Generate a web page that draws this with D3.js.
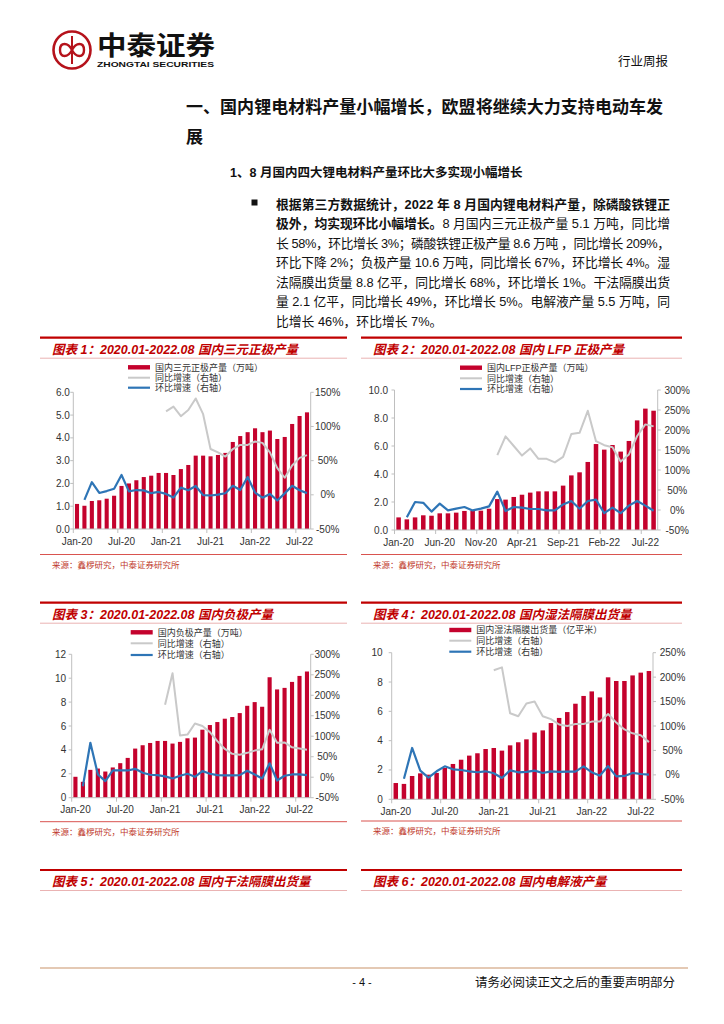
<!DOCTYPE html>
<html><head><meta charset="utf-8">
<script src="https://cdn.jsdelivr.net/npm/d3@7"></script>
<style>body{margin:0;background:#fff} svg{display:block}</style>
</head><body>
<svg id="page" width="724" height="1024"></svg>
<script>
// ---------------- DATA ----------------
const months = ["Jan-20","Feb-20","Mar-20","Apr-20","May-20","Jun-20","Jul-20","Aug-20","Sep-20","Oct-20","Nov-20","Dec-20",
  "Jan-21","Feb-21","Mar-21","Apr-21","May-21","Jun-21","Jul-21","Aug-21","Sep-21","Oct-21","Nov-21","Dec-21",
  "Jan-22","Feb-22","Mar-22","Apr-22","May-22","Jun-22","Jul-22","Aug-22"];
const N12 = [null,null,null,null,null,null,null,null,null,null,null,null];

// Chart 1: NCM cathode output (10k t), YoY %, MoM %
const ncmOutput = [1.10,1.02,1.23,1.26,1.33,1.46,1.89,2.00,2.14,2.28,2.34,2.46,2.46,2.37,2.63,2.81,3.22,3.22,3.19,3.25,3.34,3.82,4.08,4.25,4.42,4.25,4.32,3.95,4.04,4.61,4.96,5.12];
const ncmYoY = N12.concat([122,129,115,124,141,118,67,62,56,67,73,73,78,76,62,39,25,43,54,58]);
const ncmMoM = [null,-7.5,18.5,2.7,5.5,9,29,5,7,6.5,2.4,4.2,1.3,-4,10.5,6.6,13,-0.5,-1,0.3,2.3,13.2,7,26,3.3,-4.2,1.3,-8.3,2.1,13.2,6.7,2.5];

// Chart 2: LFP cathode output
const lfpOutput = [0.90,0.76,0.90,1.05,1.02,1.19,1.19,1.24,1.36,1.38,1.38,1.52,2.21,2.17,2.36,2.52,2.67,2.76,2.76,2.76,3.17,3.90,4.12,4.86,6.14,5.74,6.07,5.60,6.36,7.83,8.67,8.52];
const lfpYoY = N12.concat([137,184,160,136,154,128,128,119,133,190,193,248,172,162,157,121,139,185,214,209]);
const lfpMoM = [null,-18,20,18,-4,16,-1,3.3,7.5,-1,3.3,9,46,-2.5,7.5,6,2.5,2.5,-1,-1,14,22.5,3.3,22.5,26,-8,6,-8,11,22.5,11,-2];

// Chart 3: anode output
const anodeOutput = [1.75,1.33,2.33,2.44,2.19,2.53,2.89,3.33,4.11,4.39,4.58,4.75,4.75,4.53,4.67,4.97,5.03,5.69,6.08,6.33,6.61,6.75,7.08,7.69,8.00,7.61,10.08,9.06,9.19,9.69,10.19,10.56];
const anodeYoY = N12.concat([177,254,102,104,131,125,110,88,69,57,55,59.5,65,68,116,84,85,73,70,67]);
const anodeMoM = [null,-22,84,7,-9.5,16.5,16.5,16.5,20.5,11,6,5,2,-3,3.5,8.4,1,15,8.4,5,4.3,4.3,5,15.6,6.7,-3,34,-8,3.5,6.7,6.7,5];

// Chart 4: wet-process separator shipments (100m m2)
const wetOutput = [1.11,1.05,1.59,1.77,1.68,1.80,2.14,2.41,2.70,2.98,3.14,3.43,3.50,3.32,3.68,3.89,4.09,4.55,4.70,5.20,5.55,5.95,6.52,7.05,7.36,6.95,8.32,8.07,8.07,8.45,8.64,8.75];
const wetYoY = N12.concat([214,220,126,120,146,150,120,114,103,100,104,104,109,109,124.5,107,93,85,81,67]);
const wetMoM = [null,-8,55,8.7,-5.6,7.3,17.5,11.4,10,7.3,5.3,7.3,3.2,-6.3,9.3,5.3,6,8.7,3.9,7.3,6,6.6,6.6,17.5,5.3,-1.6,18,-3,-2.2,3.9,1.8,0.5];

// Axis ticks
const ticks1L = [0,1,2,3,4,5,6];
const ticks1R = [-50,0,50,100,150];
const ticks2L = [0,2,4,6,8,10];
const ticks2R = [-50,0,50,100,150,200,250,300];
const ticks3L = [0,2,4,6,8,10,12];
const ticks3R = [-50,0,50,100,150,200,250,300];
const ticks4L = [0,2,4,6,8,10];
const ticks4R = [-50,0,50,100,150,200,250];

const legendYoY = "同比增速（右轴）";
const legendMoM = "环比增速（右轴）";
const sourceText = "来源：鑫椤研究，中泰证券研究所";

// ---------------- STYLE ----------------
const FONT = "'Liberation Sans', Arial, 'Noto Sans CJK SC', sans-serif";
const CJK = "'Noto Sans CJK SC', sans-serif";
const RED = "#c00000";
const BAR = "#c4022d";
const GRAY = "#c9c9c9";
const BLUE = "#2e75b6";
const AXIS = "#bfbfbf";
const svg = d3.select("#page");

// ---------------- HEADER ----------------
const logo = svg.append("g");
logo.append("circle").attr("cx",72).attr("cy",50).attr("r",18.5).attr("fill","none").attr("stroke","#b5121b").attr("stroke-width",2.6);
logo.append("line").attr("x1",72).attr("x2",72).attr("y1",36).attr("y2",64).attr("stroke","#b5121b").attr("stroke-width",2);
logo.append("path").attr("d","M72,50 C68,42 60,42 60,50 C60,58 68,58 72,50 C76,42 84,42 84,50 C84,58 76,58 72,50")
  .attr("fill","none").attr("stroke","#b5121b").attr("stroke-width",2.4);
svg.append("text").attr("x",97).attr("y",55).attr("font-family",CJK).attr("font-weight",700).attr("font-size",26)
  .attr("textLength",118).attr("lengthAdjust","spacingAndGlyphs").attr("fill","#111").text("中泰证券");
svg.append("text").attr("x",97).attr("y",67).attr("font-family",FONT).attr("font-weight",700).attr("font-size",8)
  .attr("textLength",117).attr("lengthAdjust","spacingAndGlyphs").attr("fill","#111").text("ZHONGTAI SECURITIES");
svg.append("text").attr("x",668).attr("y",66).attr("text-anchor","end").attr("font-family",CJK).attr("font-size",12.5)
  .attr("fill","#111").text("行业周报");

// ---------------- BODY TEXT ----------------
svg.append("text").attr("x",186).attr("y",113).attr("font-family",CJK).attr("font-weight",700).attr("font-size",17)
  .attr("textLength",477).attr("lengthAdjust","spacing").attr("fill","#111")
  .text("一、国内锂电材料产量小幅增长，欧盟将继续大力支持电动车发");
svg.append("text").attr("x",186).attr("y",143).attr("font-family",CJK).attr("font-weight",700).attr("font-size",17)
  .attr("fill","#111").text("展");
svg.append("text").attr("x",230).attr("y",177).attr("font-family",FONT).attr("font-weight",700).attr("font-size",12.5)
  .attr("fill","#111").text("1、8 月国内四大锂电材料产量环比大多实现小幅增长");

svg.append("rect").attr("x",251.5).attr("y",199.5).attr("width",6).attr("height",6).attr("fill","#111");
const paraLines = [
  [["根据第三方数据统计，2022 年 8 月国内锂电材料产量，除磷酸铁锂正",true]],
  [["极外，均实现环比小幅增长。",true],["8 月国内三元正极产量 5.1 万吨，同比增",false]],
  [["长 58%，环比增长 3%；磷酸铁锂正极产量 8.6 万吨 ，同比增长 209%，",false]],
  [["环比下降 2%；负极产量 10.6 万吨，同比增长 67%，环比增长 4%。湿",false]],
  [["法隔膜出货量 8.8 亿平，同比增长 68%，环比增长 1%。干法隔膜出货",false]],
  [["量 2.1 亿平，同比增长 49%，环比增长 5%。电解液产量 5.5 万吨，同",false]],
  [["比增长 46%，环比增长 7%。",false]]
];
paraLines.forEach((ln,i)=>{
  const t = svg.append("text").attr("x",276).attr("y",208.5+19.5*i).attr("font-family",FONT).attr("font-size",12.8).attr("fill","#111");
  if(i<6) t.attr("textLength",394).attr("lengthAdjust","spacing");
  ln.forEach(([s,b])=>t.append("tspan").attr("font-weight",b?700:400).text(s));
});

// ---------------- CHART FRAME ----------------
function chartHeader(x0,x1,top,title){
  svg.append("line").attr("x1",x0).attr("x2",x1).attr("y1",top).attr("y2",top).attr("stroke",RED).attr("stroke-width",2.2);
  svg.append("text").attr("x",x0+12).attr("y",top+16).attr("font-family",FONT).attr("font-weight",700)
    .attr("font-style","italic").attr("font-size",12.5).attr("fill",RED).text(title);
  svg.append("line").attr("x1",x0).attr("x2",x1).attr("y1",top+20.5).attr("y2",top+20.5).attr("stroke","#eab3b3").attr("stroke-width",1);
}
function chartSource(x0,x1,y){
  svg.append("line").attr("x1",x0).attr("x2",x1).attr("y1",y).attr("y2",y).attr("stroke","#d9534f").attr("stroke-width",1);
  svg.append("text").attr("x",x0+12).attr("y",y+13).attr("font-family",CJK).attr("font-size",8.5).attr("fill","#c0392b").text(sourceText);
}

function drawChart(c){
  chartHeader(c.x0,c.x1,c.top0,c.title);
  chartSource(c.x0,c.x1,c.srcY);
  const g = svg.append("g");
  const x = d3.scaleBand().domain(months).range([c.left,c.right]).paddingInner(0.45).paddingOuter(0.225);
  const step = x.step();
  const yL = d3.scaleLinear().domain(c.domL).range([c.bottom,c.top]);
  const yR = d3.scaleLinear().domain(c.domR).range([c.bottom,c.top]);

  // bars
  g.selectAll("rect.bar").data(c.bars).enter().append("rect")
    .attr("x",(d,i)=>x(months[i])).attr("width",x.bandwidth())
    .attr("y",d=>yL(d)).attr("height",d=>yL(c.domL[0])-yL(d)).attr("fill",BAR);

  // axis lines
  g.append("line").attr("x1",c.left).attr("x2",c.left).attr("y1",c.top).attr("y2",c.bottom).attr("stroke",AXIS);
  g.append("line").attr("x1",c.right).attr("x2",c.right).attr("y1",c.top).attr("y2",c.bottom).attr("stroke",AXIS);
  g.append("line").attr("x1",c.left).attr("x2",c.right).attr("y1",c.bottom).attr("y2",c.bottom).attr("stroke",AXIS);

  // left ticks
  c.ticksL.forEach(v=>{
    g.append("line").attr("x1",c.left-3).attr("x2",c.left).attr("y1",yL(v)).attr("y2",yL(v)).attr("stroke",AXIS);
    g.append("text").attr("x",c.left-c.leftGap).attr("y",yL(v)+3.5).attr("text-anchor","end")
      .attr("font-family",FONT).attr("font-size",10).attr("fill","#333").text(c.fmtL(v));
  });
  // right ticks
  c.ticksR.forEach(v=>{
    g.append("line").attr("x1",c.right).attr("x2",c.right+3).attr("y1",yR(v)).attr("y2",yR(v)).attr("stroke",AXIS);
    g.append("text").attr("x",c.right+c.rightOff).attr("y",yR(v)+3.5).attr("text-anchor","middle")
      .attr("font-family",FONT).attr("font-size",10).attr("fill","#333").text(v+"%");
  });
  // bottom ticks & labels
  months.forEach((m,i)=>{
    if(i % c.interval === 0){
      const bx = c.left + step*i;
      g.append("line").attr("x1",bx).attr("x2",bx).attr("y1",c.bottom).attr("y2",c.bottom+4).attr("stroke",AXIS);
      g.append("text").attr("x",x(m)+x.bandwidth()/2).attr("y",c.bottom+15.5).attr("text-anchor","middle")
        .attr("font-family",FONT).attr("font-size",10).attr("fill","#333").text(m);
    }
  });

  // lines
  const line = d3.line().defined(d=>d!=null).x((d,i)=>x(months[i])+x.bandwidth()/2).y(d=>yR(d));
  g.append("path").attr("d",line(c.yoy)).attr("fill","none").attr("stroke",GRAY).attr("stroke-width",2).attr("stroke-linejoin","round");
  g.append("path").attr("d",line(c.mom)).attr("fill","none").attr("stroke",BLUE).attr("stroke-width",2.2).attr("stroke-linejoin","round");

  // legend
  const lx = c.legX, ly = c.legY;
  g.append("rect").attr("x",lx).attr("y",ly[0]-2.2).attr("width",22).attr("height",4.4).attr("fill",BAR);
  g.append("line").attr("x1",lx).attr("x2",lx+22).attr("y1",ly[1]).attr("y2",ly[1]).attr("stroke",GRAY).attr("stroke-width",2);
  g.append("line").attr("x1",lx).attr("x2",lx+22).attr("y1",ly[2]).attr("y2",ly[2]).attr("stroke",BLUE).attr("stroke-width",2.2);
  [c.legLabel,legendYoY,legendMoM].forEach((t,i)=>{
    g.append("text").attr("x",lx+27).attr("y",ly[i]+3.2).attr("font-family",FONT).attr("font-size",9)
      .attr("fill","#333").text(t);
  });
}

drawChart({x0:40,x1:347,top0:337.7,title:"图表 1：2020.01-2022.08 国内三元正极产量",srcY:554.5,
  left:73.3,right:310.7,top:392.3,bottom:529,domL:[0,6],domR:[-50,150],ticksL:ticks1L,ticksR:ticks1R,
  fmtL:d3.format(".1f"),leftGap:3.5,rightOff:17,interval:6,bars:ncmOutput,yoy:ncmYoY,mom:ncmMoM,
  legX:128,legY:[367.3,377.7,387.7],legLabel:"国内三元正极产量（万吨）"});

drawChart({x0:361,x1:682,top0:337.7,title:"图表 2：2020.01-2022.08 国内 LFP 正极产量",srcY:554.5,
  left:394.5,right:657.7,top:390,bottom:530,domL:[0,10],domR:[-50,300],ticksL:ticks2L,ticksR:ticks2R,
  fmtL:d3.format(".1f"),leftGap:6.5,rightOff:19.5,interval:5,bars:lfpOutput,yoy:lfpYoY,mom:lfpMoM,
  legX:460,legY:[367.7,378.3,389],legLabel:"国内LFP正极产量（万吨）"});

drawChart({x0:40,x1:347,top0:602.7,title:"图表 3：2020.01-2022.08 国内负极产量",srcY:821.7,
  left:71.7,right:310.7,top:654.3,bottom:797.7,domL:[0,12],domR:[-50,300],ticksL:ticks3L,ticksR:ticks3R,
  fmtL:d3.format("d"),leftGap:5.5,rightOff:16.5,interval:6,bars:anodeOutput,yoy:anodeYoY,mom:anodeMoM,
  legX:130.7,legY:[632.3,643.3,655],legLabel:"国内负极产量（万吨）"});

drawChart({x0:361,x1:682,top0:602.7,title:"图表 4：2020.01-2022.08 国内湿法隔膜出货量",srcY:821,
  left:391.7,right:653,top:652.7,bottom:799.3,domL:[0,10],domR:[-50,250],ticksL:ticks4L,ticksR:ticks4R,
  fmtL:d3.format("d"),leftGap:9,rightOff:19.5,interval:6,bars:wetOutput,yoy:wetYoY,mom:wetMoM,
  legX:449.3,legY:[630,640.7,651.7],legLabel:"国内湿法隔膜出货量（亿平米）"});

chartHeader(40,347,870,"图表 5：2020.01-2022.08 国内干法隔膜出货量");
chartHeader(361,682,870,"图表 6：2020.01-2022.08 国内电解液产量");

// ---------------- FOOTER ----------------
svg.append("line").attr("x1",40).attr("x2",688).attr("y1",968).attr("y2",968).attr("stroke","#e4c9b4").attr("stroke-width",2);
svg.append("text").attr("x",362).attr("y",986).attr("text-anchor","middle").attr("font-family",FONT).attr("font-size",11)
  .attr("fill","#111").text("- 4 -");
svg.append("text").attr("x",675).attr("y",987).attr("text-anchor","end").attr("font-family",CJK).attr("font-size",12.5)
  .attr("fill","#111").text("请务必阅读正文之后的重要声明部分");
</script>
</body></html>
